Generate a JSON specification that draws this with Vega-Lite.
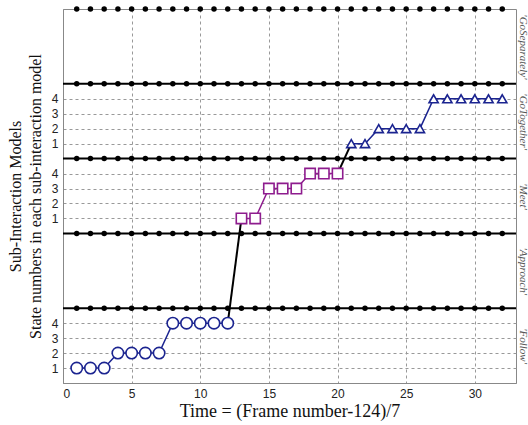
{
  "$schema": "https://vega.github.io/schema/vega-lite/v6.json",
  "autosize": "none",
  "width": 453,
  "height": 374,
  "padding": {"left": 63, "top": 9, "right": 12, "bottom": 42},
  "background": "white",
  "config": {
    "view": {"stroke": "#888", "strokeWidth": 1},
    "axis": {
      "labelFont": "Liberation Sans",
      "labelFontSize": 12,
      "labelColor": "#222",
      "titleFont": "Liberation Serif",
      "titleFontSize": 16,
      "titleFontWeight": "normal",
      "titleColor": "#111",
      "domainColor": "#888",
      "ticks": false,
      "gridColor": "#999",
      "gridDash": [3, 3],
      "gridWidth": 1,
      "gridOpacity": 1
    },
    "axisX": {"titleFontSize": 18}
  },
  "datasets": {
    "bands": [{"level": 5}, {"level": 10}, {"level": 15}, {"level": 20}],
    "dots": [
      {"level": 5, "t": [1,2,3,4,5,6,7,8,9,10,11,12,13,14,15,16,17,18,19,20,21,22,23,24,25,26,27,28,29,30,31,32]},
      {"level": 10, "t": [1,2,3,4,5,6,7,8,9,10,11,12,13,14,15,16,17,18,19,20,21,22,23,24,25,26,27,28,29,30,31,32]},
      {"level": 15, "t": [1,2,3,4,5,6,7,8,9,10,11,12,13,14,15,16,17,18,19,20,21,22,23,24,25,26,27,28,29,30,31,32]},
      {"level": 20, "t": [1,2,3,4,5,6,7,8,9,10,11,12,13,14,15,16,17,18,19,20,21,22,23,24,25,26,27,28,29,30,31,32]},
      {"level": 25, "t": [1,2,3,4,5,6,7,8,9,10,11,12,13,14,15,16,17,18,19,20,21,22,23,24,25,26,27,28,29,30,31,32]}
    ],
    "obs": [
      {"t": 1, "model": "Follow", "pos": 1},
      {"t": 2, "model": "Follow", "pos": 1},
      {"t": 3, "model": "Follow", "pos": 1},
      {"t": 4, "model": "Follow", "pos": 2},
      {"t": 5, "model": "Follow", "pos": 2},
      {"t": 6, "model": "Follow", "pos": 2},
      {"t": 7, "model": "Follow", "pos": 2},
      {"t": 8, "model": "Follow", "pos": 4},
      {"t": 9, "model": "Follow", "pos": 4},
      {"t": 10, "model": "Follow", "pos": 4},
      {"t": 11, "model": "Follow", "pos": 4},
      {"t": 12, "model": "Follow", "pos": 4},
      {"t": 13, "model": "Meet", "pos": 11},
      {"t": 14, "model": "Meet", "pos": 11},
      {"t": 15, "model": "Meet", "pos": 13},
      {"t": 16, "model": "Meet", "pos": 13},
      {"t": 17, "model": "Meet", "pos": 13},
      {"t": 18, "model": "Meet", "pos": 14},
      {"t": 19, "model": "Meet", "pos": 14},
      {"t": 20, "model": "Meet", "pos": 14},
      {"t": 21, "model": "GoTogether", "pos": 16},
      {"t": 22, "model": "GoTogether", "pos": 16},
      {"t": 23, "model": "GoTogether", "pos": 17},
      {"t": 24, "model": "GoTogether", "pos": 17},
      {"t": 25, "model": "GoTogether", "pos": 17},
      {"t": 26, "model": "GoTogether", "pos": 17},
      {"t": 27, "model": "GoTogether", "pos": 19},
      {"t": 28, "model": "GoTogether", "pos": 19},
      {"t": 29, "model": "GoTogether", "pos": 19},
      {"t": 30, "model": "GoTogether", "pos": 19},
      {"t": 31, "model": "GoTogether", "pos": 19},
      {"t": 32, "model": "GoTogether", "pos": 19}
    ],
    "jumps": [
      {"seg": "a", "t": 12, "pos": 4},
      {"seg": "a", "t": 13, "pos": 11},
      {"seg": "b", "t": 20, "pos": 14},
      {"seg": "b", "t": 21, "pos": 16}
    ]
  },
  "layer": [
    {
      "data": {"name": "bands"},
      "mark": {"type": "rule", "color": "#000", "strokeWidth": 2},
      "encoding": {
        "y": {
          "field": "level", "type": "quantitative",
          "scale": {"domain": [0, 25], "nice": false, "zero": false},
          "axis": {
            "orient": "left",
            "values": [1, 2, 3, 4, 11, 12, 13, 14, 16, 17, 18, 19],
            "labelExpr": "datum.value < 5 ? datum.value : (datum.value < 15 ? datum.value - 10 : datum.value - 15)",
            "grid": true,
            "labelPadding": 5,
            "title": ["Sub-Interaction Models", "State numbers in each sub-interaction model"],
            "titleLineHeight": 20,
            "titlePadding": 8
          }
        }
      }
    },
    {
      "data": {"name": "dots"},
      "transform": [{"flatten": ["t"]}],
      "mark": {"type": "point", "filled": true, "color": "#000", "size": 30, "opacity": 1},
      "encoding": {
        "x": {
          "field": "t", "type": "quantitative",
          "scale": {"domain": [0, 33], "nice": false, "zero": false},
          "axis": {
            "values": [0, 5, 10, 15, 20, 25, 30],
            "grid": true,
            "labelPadding": 5,
            "title": "Time = (Frame number-124)/7",
            "titlePadding": 3
          }
        },
        "y": {
          "field": "level", "type": "quantitative",
          "scale": {"domain": [0, 25], "nice": false, "zero": false},
          "axis": {
            "orient": "right",
            "values": [2.5, 7.5, 12.5, 17.5, 22.5],
            "labelExpr": "datum.value < 5 ? \"'Follow'\" : datum.value < 10 ? \"'Approach'\" : datum.value < 15 ? \"'Meet'\" : datum.value < 20 ? \"'GoTogether'\" : \"'GoSeparately'\"",
            "labelAngle": 90,
            "labelAlign": "center",
            "labelBaseline": "middle",
            "labelPadding": 6,
            "labelFont": "Liberation Serif",
            "labelFontStyle": "italic",
            "labelFontSize": 11,
            "labelColor": "#555",
            "domain": false,
            "grid": false,
            "title": null
          }
        }
      }
    },
    {
      "data": {"name": "jumps"},
      "mark": {"type": "line", "color": "#000", "strokeWidth": 2},
      "encoding": {
        "x": {
          "field": "t", "type": "quantitative",
          "scale": {"domain": [0, 33], "nice": false, "zero": false},
          "axis": {
            "values": [0, 5, 10, 15, 20, 25, 30],
            "grid": true,
            "labelPadding": 5,
            "title": "Time = (Frame number-124)/7",
            "titlePadding": 3
          }
        },
        "y": {"field": "pos", "type": "quantitative", "scale": {"domain": [0, 25], "nice": false, "zero": false}, "axis": null},
        "detail": {"field": "seg"}
      }
    },
    {
      "data": {"name": "obs"},
      "mark": {"type": "line", "strokeWidth": 1.5},
      "encoding": {
        "x": {
          "field": "t", "type": "quantitative",
          "scale": {"domain": [0, 33], "nice": false, "zero": false},
          "axis": {
            "values": [0, 5, 10, 15, 20, 25, 30],
            "grid": true,
            "labelPadding": 5,
            "title": "Time = (Frame number-124)/7",
            "titlePadding": 3
          }
        },
        "y": {"field": "pos", "type": "quantitative", "scale": {"domain": [0, 25], "nice": false, "zero": false}, "axis": null},
        "color": {
          "field": "model", "type": "nominal",
          "scale": {"domain": ["Follow", "Meet", "GoTogether"], "range": ["#1b2490", "#8e1c8e", "#1b2490"]},
          "legend": null
        },
        "detail": {"field": "model"}
      }
    },
    {
      "data": {"name": "obs"},
      "mark": {"type": "point", "filled": false, "strokeWidth": 1.6, "opacity": 1, "fill": "white", "fillOpacity": 1},
      "encoding": {
        "x": {
          "field": "t", "type": "quantitative",
          "scale": {"domain": [0, 33], "nice": false, "zero": false},
          "axis": {
            "values": [0, 5, 10, 15, 20, 25, 30],
            "grid": true,
            "labelPadding": 5,
            "title": "Time = (Frame number-124)/7",
            "titlePadding": 3
          }
        },
        "y": {"field": "pos", "type": "quantitative", "scale": {"domain": [0, 25], "nice": false, "zero": false}, "axis": null},
        "color": {
          "field": "model", "type": "nominal",
          "scale": {"domain": ["Follow", "Meet", "GoTogether"], "range": ["#1b2490", "#8e1c8e", "#1b2490"]},
          "legend": null
        },
        "shape": {
          "field": "model", "type": "nominal",
          "scale": {"domain": ["Follow", "Meet", "GoTogether"], "range": ["circle", "square", "triangle-up"]},
          "legend": null
        },
        "size": {
          "field": "model", "type": "nominal",
          "scale": {"domain": ["Follow", "Meet", "GoTogether"], "range": [130, 85, 140]},
          "legend": null
        }
      }
    }
  ],
  "resolve": {"axis": {"y": "independent"}}
}
